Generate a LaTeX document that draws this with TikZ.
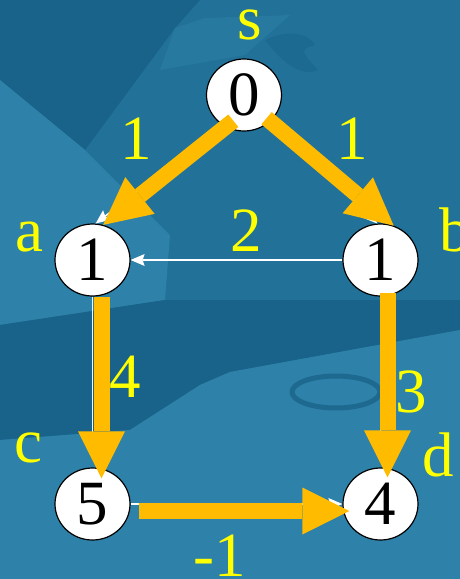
\documentclass[tikz,border=0pt]{standalone}
\usepackage{fontspec}
\setmainfont{Liberation Serif}
\usetikzlibrary{shapes.geometric, positioning, arrows.meta}
\definecolor{bgblue}{RGB}{33,113,153}
\definecolor{bglight}{RGB}{46,129,168}
\definecolor{bgdark}{RGB}{25,99,139}
\definecolor{gold}{RGB}{255,187,0}
\definecolor{lbl}{RGB}{255,255,0}

\begin{document}
\begin{tikzpicture}[x=1pt,y=-1pt,node distance=288pt,on grid,
   vert/.style={ellipse,draw=black,line width=1.2pt,fill=white,minimum width=75pt,minimum height=72pt,inner sep=0pt,font=\fontsize{63}{63}\selectfont},
   tag/.style={anchor=base,text=lbl,inner sep=0pt,font=\fontsize{63}{63}\selectfont},
   plain/.style={white,line width=1.6pt,-{Stealth[length=14pt,width=12pt,inset=2pt,line width=0pt]}},
   hot/.style={gold,line width=16pt,-{Triangle[length=47pt,width=47pt,line width=0pt]}}]
   \useasboundingbox (0,0) rectangle (460,579);
   % backdrop
   \fill[bgblue] (0,0) rectangle (460,579);
   \fill[bgdark] (0,0) -- (200,0) -- (175,28) -- (85,150) -- (0,80) -- cycle;
   \fill[bglight] (0,80) -- (85,150) -- (170,235) -- (165,300) -- (0,325) -- cycle;
   \fill[bglight,opacity=.5] (175,28) -- (205,18) -- (290,15) -- (245,55) -- (160,70) -- cycle;
   \fill[bgdark] (0,325) -- (165,300) -- (460,300) -- (460,330) -- (230,372) -- (200,385) -- (130,430) -- (0,440) -- cycle;
   \fill[bglight] (0,440) -- (130,430) -- (200,385) -- (230,372) -- (460,330) -- (460,579) -- (0,579) -- cycle;
   \draw[bgdark,line width=5pt,opacity=.8] (336,392) ellipse [x radius=44, y radius=16];
   \fill[bgdark,opacity=.5] (265,40) .. controls (290,28) and (310,35) .. (315,45) .. controls (300,50) .. (318,70) .. controls (300,78) and (280,60) .. (265,40);

   \node[vert] (s) at (244,95) {0};
   \node[vert] (a) at (92.5,260) {1};
   \node[vert] (b) [right=of a] {1};
   \node[vert] (c) [below=244pt of a] {5};
   \node[vert] (d) [right=of c] {4};

   \node[tag] (ls) at (250,39) {s};
   \node[tag] (la) at (29,251) {a};
   \node[tag] (lb) at (455,251) {b};
   \node[tag] (lc) at (28,462) {c};
   \node[tag] (ld) at (438,476) {d};
   \node[tag] (wsa) at (136,159) {1};
   \node[tag] (wsb) at (352.5,159) {1};
   \node[tag] (wba) at (246,251) {2};
   \node[tag] (wac) at (125,397) {4};
   \node[tag] (wbd) at (411.5,412) {3};
   \node[tag] (wcd) at (220,576) {-1};

   \path[plain]
    (s.235) edge (a.85)
    (s.-40) edge (b.95)
    (b.west) edge (a.east)
    (a.south) edge[shorten >=20pt] (c.north)
    (b.south) edge[shorten >=20pt] (d.north)
    (c.east) edge (d.west);

   \path[hot]
    (s.240) edge[shorten <=-10pt] (a.73)
    (s.-45) edge[shorten <=-5pt] (b.69)
    ([xshift=9pt]a.south) edge[shorten >=-11pt] ([xshift=9pt]c.north)
    ([xshift=7pt]b.south) edge[shorten <=-4pt,shorten >=-10pt] ([xshift=7pt]d.north)
    ([shift={(0,7)}]c.east) edge[shorten <=8pt,shorten >=-7pt] ([shift={(0,7)}]d.west);
\end{tikzpicture}
\end{document}
